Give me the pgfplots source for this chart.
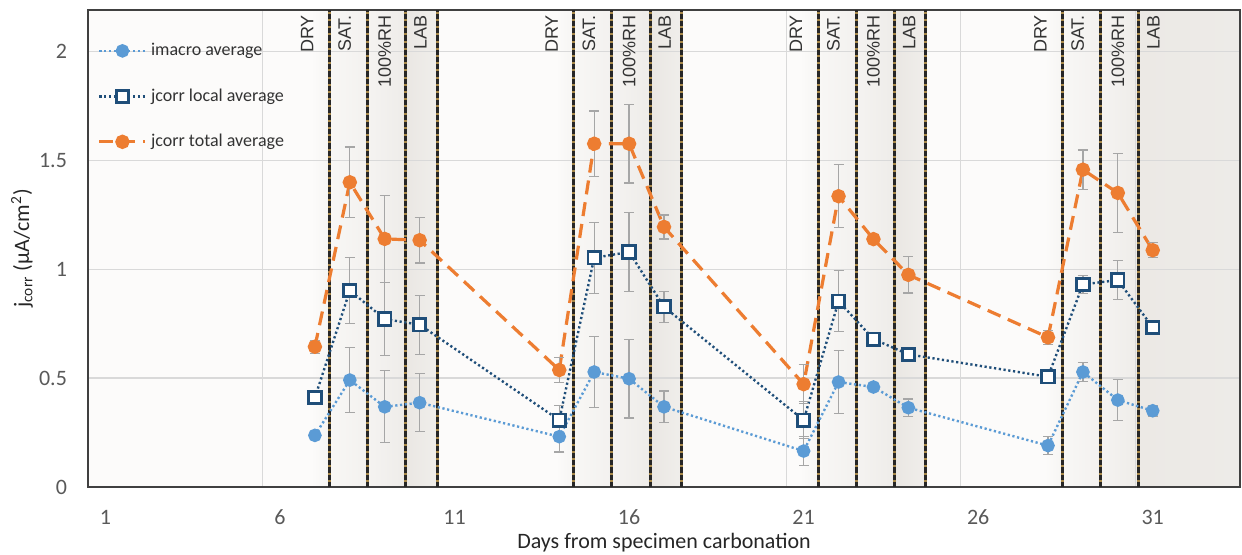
\documentclass[border=0pt]{standalone}
\usepackage{pgfplots}
\pgfplotsset{compat=1.18}
\usepackage{pgfplotstable}
\usepackage{fontspec}
\setmainfont{Carlito}
\newfontfamily\arial{Liberation Sans}
\definecolor{cblue}{HTML}{5B9BD5}
\definecolor{cnavy}{HTML}{1F4E79}
\definecolor{corange}{HTML}{ED7D31}
\definecolor{gridc}{HTML}{D9D9D9}
\definecolor{errc}{HTML}{A6A6A6}
\definecolor{tickc}{HTML}{595959}
\definecolor{gold}{HTML}{A8894A}
\definecolor{bgc}{HTML}{FCFBFA}
\definecolor{dryR}{HTML}{F6F5F3}
\definecolor{satL}{HTML}{F8F7F5}
\definecolor{satR}{HTML}{F3F1EF}
\definecolor{rhL}{HTML}{F5F3F1}
\definecolor{rhR}{HTML}{EEECE9}
\definecolor{labL}{HTML}{EAE7E3}
\definecolor{labR}{HTML}{F0EEEB}
\definecolor{endL}{HTML}{ECE9E5}
\definecolor{endR}{HTML}{EDEBE8}

\pgfplotstableread{
d  im    ime   lo    loe   to    toe
7  0.237 0.015 0.410 0.015 0.644 0.030
8  0.491 0.149 0.902 0.153 1.399 0.162
9  0.368 0.165 0.771 0.167 1.139 0.200
10 0.387 0.133 0.745 0.135 1.133 0.105
14 0.231 0.070 0.307 0.066 0.537 0.057
15 0.528 0.162 1.052 0.163 1.576 0.150
16 0.497 0.180 1.079 0.180 1.576 0.180
17 0.368 0.073 0.827 0.072 1.194 0.055
21 0.165 0.065 0.307 0.085 0.472 0.090
22 0.482 0.143 0.853 0.140 1.335 0.145
23 0.459 0.010 0.679 0.010 1.138 0.010
24 0.364 0.040 0.609 0.020 0.974 0.083
28 0.190 0.040 0.506 0.020 0.687 0.033
29 0.528 0.045 0.930 0.040 1.457 0.090
30 0.399 0.094 0.950 0.091 1.350 0.182
31 0.350 0.025 0.733 0.020 1.087 0.035
}\data

\begin{document}
\begin{tikzpicture}
\begin{axis}[
  name=ax,
  set layers=standard,
  scale only axis,
  width=576pt, height=238.5pt,
  xmin=0.5, xmax=33.5, ymin=0, ymax=2.19,
  xtick={1,6,...,31},
  ytick={0,0.5,1,1.5,2},
  major tick length=0pt,
  extra x ticks={5.5,10.5,15.5,20.5,25.5,30.5},
  extra x tick labels={},
  extra x tick style={grid=major, major tick length=0pt},
  ymajorgrids,
  grid style={gridc, line width=0.6pt},
  axis line style={draw=black!75, line width=0.9pt},
  /pgf/number format/assume math mode=true,
  tick label style={font=\fontsize{11}{13}\selectfont, text=tickc},
  yticklabel style={xshift=-7pt},
  xticklabel style={yshift=-8pt},
  xlabel={Days from specimen carbonation},
  ylabel={j\textsubscript{corr} (µA/cm\textsuperscript{2})},
  label style={font=\fontsize{11}{13}\selectfont, text=black!85},
  xlabel style={at={(axis description cs:0.5,-0.117)}, anchor=center},
  ylabel style={at={(axis description cs:-0.0573,0.5)}, anchor=center},
  legend style={at={(0.003,0.948)}, anchor=north west, draw=none, fill=none,
    font=\fontsize{9}{10}\selectfont, row sep=11pt, text=black!80},
  legend cell align=left,
  legend image code/.code={\draw[mark repeat=2,mark phase=2,#1] plot coordinates {(0pt,0pt)(11.5pt,0pt)(23pt,0pt)};},
  error bars/error bar style={errc, line width=0.6pt, solid},
  error bars/error mark options={rotate=90, errc, mark size=2.5pt, line width=0.6pt, solid},
]
\begin{pgfonlayer}{axis background}
  \fill[bgc] (rel axis cs:0,0) rectangle (rel axis cs:1,1);
  \pgfplotsinvokeforeach{7,14,21,28}{
    \fill[left color=bgc, right color=dryR] (axis cs:{#1-0.1},0) rectangle (axis cs:{#1+0.42},2.19);
    \fill[left color=satL, right color=satR] (axis cs:{#1+0.42},0) rectangle (axis cs:{#1+1.5},2.19);
    \fill[left color=rhL, right color=rhR] (axis cs:{#1+1.5},0) rectangle (axis cs:{#1+2.6},2.19);
  }
  \pgfplotsinvokeforeach{7,14,21}{
    \fill[left color=labL, right color=labR] (axis cs:{#1+2.6},0) rectangle (axis cs:{#1+3.5},2.19);
  }
  \fill[left color=endL, right color=endR] (axis cs:30.6,0) rectangle (axis cs:33.5,2.19);
\end{pgfonlayer}
\pgfplotsinvokeforeach{7.42,8.5,9.6,10.5,14.42,15.5,16.6,17.5,21.42,22.5,23.6,24.5,28.42,29.5,30.6}{
  \draw[gold, line width=1.5pt] (axis cs:#1,0) -- (axis cs:#1,2.19);
  \draw[black!85, line width=1.5pt, dash pattern=on 2.6pt off 1pt] (axis cs:#1,0) -- (axis cs:#1,2.19);
}
\pgfplotsinvokeforeach{7,14,21,28}{
  \node[rotate=90, anchor=east, inner sep=0pt, font=\arial\fontsize{9}{10}\selectfont, text=black!80] at (axis cs:{#1-0.22},2.168) {DRY};
  \node[rotate=90, anchor=east, inner sep=0pt, font=\arial\fontsize{9}{10}\selectfont, text=black!80] at (axis cs:{#1+0.85},2.168) {SAT.};
  \node[rotate=90, anchor=east, inner sep=0pt, font=\arial\fontsize{9}{10}\selectfont, text=black!80] at (axis cs:{#1+2.0},2.168) {100\%RH};
  \node[rotate=90, anchor=east, inner sep=0pt, font=\arial\fontsize{9}{10}\selectfont, text=black!80] at (axis cs:{#1+3.02},2.168) {LAB};
}
\addplot[cblue, line width=1.2pt, dash pattern=on 1.1pt off 1.3pt, mark=*, mark size=2.8pt,
  mark options={solid, fill=cblue, draw=cblue},
  error bars/.cd, y dir=both, y explicit]
  table[x=d, y=im, y error=ime] {\data};
\addlegendentry{imacro average}
\addplot[cnavy, line width=1.2pt, dash pattern=on 1.1pt off 1.3pt, mark=square*, mark size=3.1pt,
  mark options={solid, fill=white, draw=cnavy, line width=1.4pt},
  error bars/.cd, y dir=both, y explicit]
  table[x=d, y=lo, y error=loe] {\data};
\addlegendentry{jcorr local average}
\addplot[corange, line width=1.6pt, dash pattern=on 7pt off 4pt, mark=*, mark size=2.8pt,
  mark options={solid, fill=corange, draw=corange},
  error bars/.cd, y dir=both, y explicit]
  table[x=d, y=to, y error=toe] {\data};
\addlegendentry{jcorr total average}
\end{axis}
\pgfresetboundingbox
\path ([shift={(-44pt,-34pt)}]ax.south west) rectangle ([shift={(1pt,5pt)}]ax.north east);
\end{tikzpicture}
\end{document}
